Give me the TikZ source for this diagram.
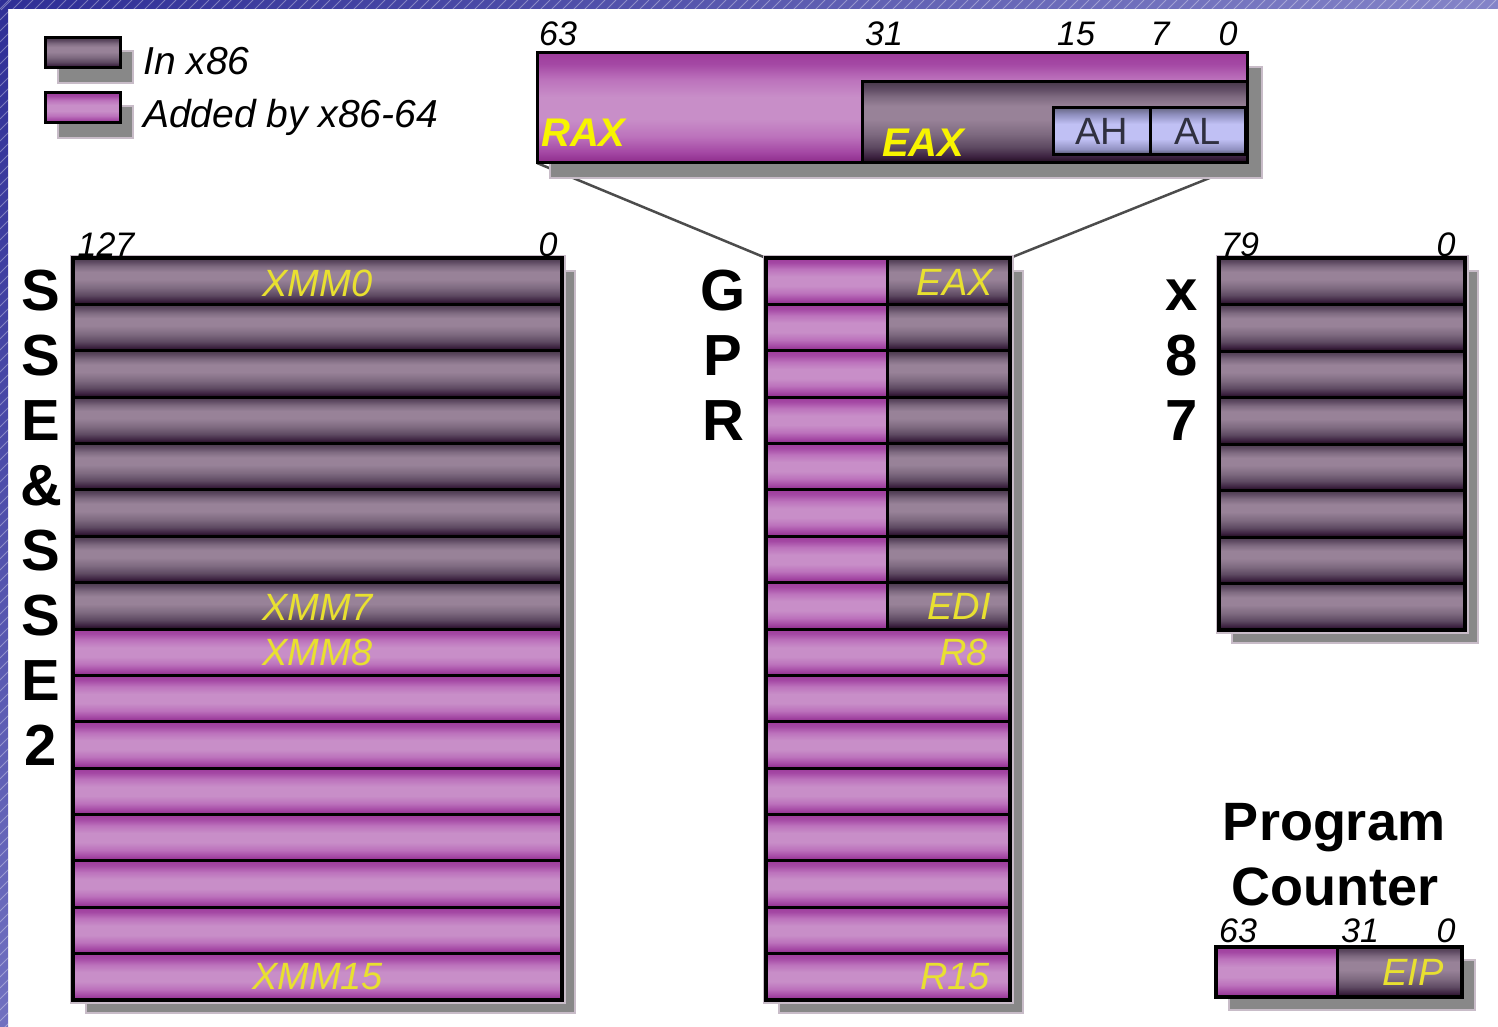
\documentclass[tikz,border=0pt]{standalone}
\usepackage{fontspec}
\setmainfont{Liberation Sans}
\usetikzlibrary{calc}

% frame band colours
\definecolor{bandA}{HTML}{2E2E96}
\definecolor{bandB}{HTML}{8484C8}
\definecolor{bandC}{HTML}{7070C0}
% legacy (x86) register cylinder
\definecolor{dk0}{HTML}{1E0A1C}
\definecolor{dk1}{HTML}{3C2240}
\definecolor{dk2}{HTML}{5E4A62}
\definecolor{dk3}{HTML}{7E6A80}
\definecolor{dk4}{HTML}{988298}
\definecolor{dk5}{HTML}{4A3A4C}
% x86-64 register cylinder
\definecolor{pk0}{HTML}{8C2A8A}
\definecolor{pk1}{HTML}{A448A4}
\definecolor{pk2}{HTML}{BC72BC}
\definecolor{pk3}{HTML}{C88EC8}
\definecolor{pk5}{HTML}{9E3C9C}
% byte registers
\definecolor{lv0}{HTML}{4A4A5E}
\definecolor{lv1}{HTML}{9090C0}
\definecolor{lv2}{HTML}{C0C0F4}
\definecolor{lv3}{HTML}{6A6A88}
% misc
\definecolor{shadowc}{HTML}{888888}
\definecolor{haloc}{HTML}{C8BCC8}
\definecolor{regyellow}{HTML}{E8E030}
\definecolor{hotyellow}{HTML}{F8F400}
\definecolor{bytetext}{HTML}{303040}

\pgfdeclareverticalshading{oldreg}{100bp}{color(0bp)=(dk0); color(25bp)=(dk0); color(29bp)=(dk1); color(35bp)=(dk2); color(43bp)=(dk3); color(52bp)=(dk4); color(60bp)=(dk4); color(66bp)=(dk3); color(71bp)=(dk2); color(75bp)=(dk5); color(100bp)=(dk5)}
\pgfdeclareverticalshading{newreg}{100bp}{color(0bp)=(pk0); color(25bp)=(pk0); color(30bp)=(pk1); color(37bp)=(pk2); color(45bp)=(pk3); color(55bp)=(pk3); color(63bp)=(pk2); color(70bp)=(pk1); color(75bp)=(pk5); color(100bp)=(pk5)}
\pgfdeclareverticalshading{bytereg}{100bp}{color(0bp)=(lv0); color(25bp)=(lv0); color(31bp)=(lv1); color(42bp)=(lv2); color(58bp)=(lv2); color(68bp)=(lv1); color(75bp)=(lv3); color(100bp)=(lv3)}

\pgfdeclarelayer{back}
\pgfdeclarelayer{wires}
\pgfsetlayers{back,wires,main}

\tikzset{
  regcell/.style={shade, draw=black, line width=3pt, inner sep=0pt, outer sep=0pt, anchor=north west},
  oldcell/.style={regcell, shading=oldreg},
  newcell/.style={regcell, shading=newreg},
  bytecell/.style={regcell, shading=bytereg},
  frame/.style={draw=black, line width=4pt, inner sep=0pt, outer sep=0pt, anchor=north west},
  shadowbox/.style={fill=shadowc, draw=haloc, line width=1.5pt},
  halo/.style={draw=haloc, line width=7pt},
  hatch/.style={draw=white, opacity=0.35, line width=0.8pt},
  zoomline/.style={draw=black!70, line width=2.5pt},
  legendtxt/.style={anchor=base west, inner sep=0pt, font=\fontsize{39}{40}\selectfont\itshape},
  bitnum/.style={anchor=base, inner sep=0pt, font=\fontsize{34}{36}\selectfont\itshape},
  reglbl/.style={inner sep=0pt, text=regyellow, font=\fontsize{38}{40}\selectfont\itshape},
  biglbl/.style={anchor=base west, inner sep=0pt, text=hotyellow, font=\fontsize{40}{42}\selectfont\bfseries\itshape},
  bytelbl/.style={inner sep=0pt, text=bytetext, font=\fontsize{38}{40}\selectfont},
  stacklet/.style={anchor=base, inner sep=0pt, font=\fontsize{58}{60}\selectfont\bfseries},
  pctitle/.style={anchor=base, inner sep=0pt, font=\fontsize{54}{56}\selectfont\bfseries},
}

\begin{document}
\begin{tikzpicture}[x=1pt,y=-1pt]
\useasboundingbox (0,0) rectangle (1498,1027);

% page background with hatched blue frame bands
\begin{pgfonlayer}{back}
  \fill[white] (0,0) rectangle (1498,1027);
  \shade[left color=bandA, right color=bandB] (0,0) rectangle (1498,9);
  \shade[top color=bandA, bottom color=bandC] (0,0) rectangle (8,1027);
  \begin{scope}
    \clip (0,0) rectangle (1498,9) (0,0) rectangle (8,1027);
    \foreach \k in {0,11,...,1530} \draw[hatch] (\k-10,10) -- (\k,0);
    \foreach \k in {0,11,...,1045} \draw[hatch] (0,\k+9) -- (9,\k);
  \end{scope}
\end{pgfonlayer}

% legend
\fill[shadowbox] (58,51) rectangle (133,83);
\node[oldcell, minimum width=75, minimum height=30] (keyold) at (45,38) {};
\node[legendtxt] (keyoldtxt) at (143,75) {In x86};
\fill[shadowbox] (58,106) rectangle (133,138);
\node[newcell, minimum width=75, minimum height=30] (keynew) at (45,93) {};
\node[legendtxt] (keynewtxt) at (143,128) {Added by x86-64};

% RAX breakdown
\fill[shadowbox] (550,67) rectangle (1262,178);
\node[newcell, minimum width=710, minimum height=110] (rax) at (537,53) {};
\node[oldcell, minimum width=385, minimum height=81] (eax) at (862,82) {};
\node[bytecell, minimum width=97, minimum height=47] (ah) at (1053,108) {};
\node[bytecell, minimum width=95, minimum height=47] (al) at (1150,108) {};
\node[biglbl] (raxtxt) at (541,147) {RAX};
\node[biglbl] (eaxtxt) at (882,157) {EAX};
\node[bytelbl] (ahtxt) at (ah.center) {AH};
\node[bytelbl] (altxt) at (al.center) {AL};
\node[bitnum] (b63) at (558,46) {63};
\node[bitnum] (b31) at (884,46) {31};
\node[bitnum] (b15) at (1076,46) {15};
\node[bitnum] (b7) at (1160,46) {7};
\node[bitnum] (b0) at (1228,46) {0};

% SSE / SSE2 register file
\fill[shadowbox] (86,271) rectangle (575,1013);
\draw[halo] (73,258) rectangle (562,1000);
\foreach \i in {0,...,7}
  \node[oldcell, minimum width=489, minimum height=46.375] (xmm\i) at (73,{258+46.375*\i}) {};
\foreach \i in {8,...,15}
  \node[newcell, minimum width=489, minimum height=46.375] (xmm\i) at (73,{258+46.375*\i}) {};
\node[frame, minimum width=489, minimum height=742] (sse) at (73,258) {};
\node[reglbl] (xmm0txt) at ($(xmm0.center)+(0,2)$) {XMM0};
\node[reglbl] (xmm7txt) at ($(xmm7.center)+(0,2)$) {XMM7};
\node[reglbl] (xmm8txt) at ($(xmm8.center)+(0,0)$) {XMM8};
\node[reglbl] (xmm15txt) at ($(xmm15.center)+(0,0)$) {XMM15};
\node[bitnum] (s127) at (106,256) {127};
\node[bitnum] (s0) at (548,256) {0};
\foreach \c [count=\n from 0] in {S,S,E,\&,S,S,E,2}
  \node[stacklet] (sse\n) at (41,{310+65*\n}) {\c};

% general purpose registers
\fill[shadowbox] (779,271) rectangle (1023,1013);
\draw[halo] (766,258) rectangle (1010,1000);
\foreach \i in {0,...,7} {
  \node[newcell, minimum width=121, minimum height=46.375] (gprhi\i) at (766,{258+46.375*\i}) {};
  \node[oldcell, minimum width=123, minimum height=46.375] (gprlo\i) at (887,{258+46.375*\i}) {};
}
\foreach \i in {8,...,15}
  \node[newcell, minimum width=244, minimum height=46.375] (r\i) at (766,{258+46.375*\i}) {};
\node[frame, minimum width=244, minimum height=742] (gpr) at (766,258) {};
\node[reglbl, anchor=east] (eaxrow) at ($(gprlo0.east)+(-17,1)$) {EAX};
\node[reglbl, anchor=east] (edirow) at ($(gprlo7.east)+(-19,1)$) {EDI};
\node[reglbl, anchor=east] (r8row) at ($(r8.east)+(-22,0)$) {R8};
\node[reglbl, anchor=east] (r15row) at ($(r15.east)+(-20,0)$) {R15};
\foreach \c [count=\n from 0] in {G,P,R}
  \node[stacklet] (gprl\n) at (723,{310+65*\n}) {\c};

% x87 register stack
\fill[shadowbox] (1232,271) rectangle (1478,643);
\draw[halo] (1219,258) rectangle (1465,630);
\foreach \i in {0,...,7}
  \node[oldcell, minimum width=246, minimum height=46.5] (st\i) at (1219,{258+46.5*\i}) {};
\node[frame, minimum width=246, minimum height=372] (fpu) at (1219,258) {};
\node[bitnum] (f79) at (1240,256) {79};
\node[bitnum] (f0) at (1446,256) {0};
\foreach \c [count=\n from 0] in {x,8,7}
  \node[stacklet] (fpul\n) at (1182,{310+65*\n}) {\c};

% program counter
\node[pctitle] (pc1) at (1334,840) {Program};
\node[pctitle] (pc2) at (1335,905) {Counter};
\fill[shadowbox] (1229,960) rectangle (1475,1010);
\node[newcell, minimum width=121, minimum height=50] (riphi) at (1216,947) {};
\node[oldcell, minimum width=125, minimum height=50] (eip) at (1337,947) {};
\node[frame, minimum width=246, minimum height=50] (rip) at (1216,947) {};
\node[reglbl, anchor=east] (eiptxt) at ($(eip.east)+(-18,0)$) {EIP};
\node[bitnum] (p63) at (1238,942) {63};
\node[bitnum] (p31) at (1360,942) {31};
\node[bitnum] (p0) at (1446,942) {0};

% zoom lines from RAX onto the GPR file
\begin{pgfonlayer}{wires}
  \draw[zoomline] (rax.south west) -- (gpr.north west);
  \draw[zoomline] (rax.south east) -- (gpr.north east);
\end{pgfonlayer}
\end{tikzpicture}
\end{document}
